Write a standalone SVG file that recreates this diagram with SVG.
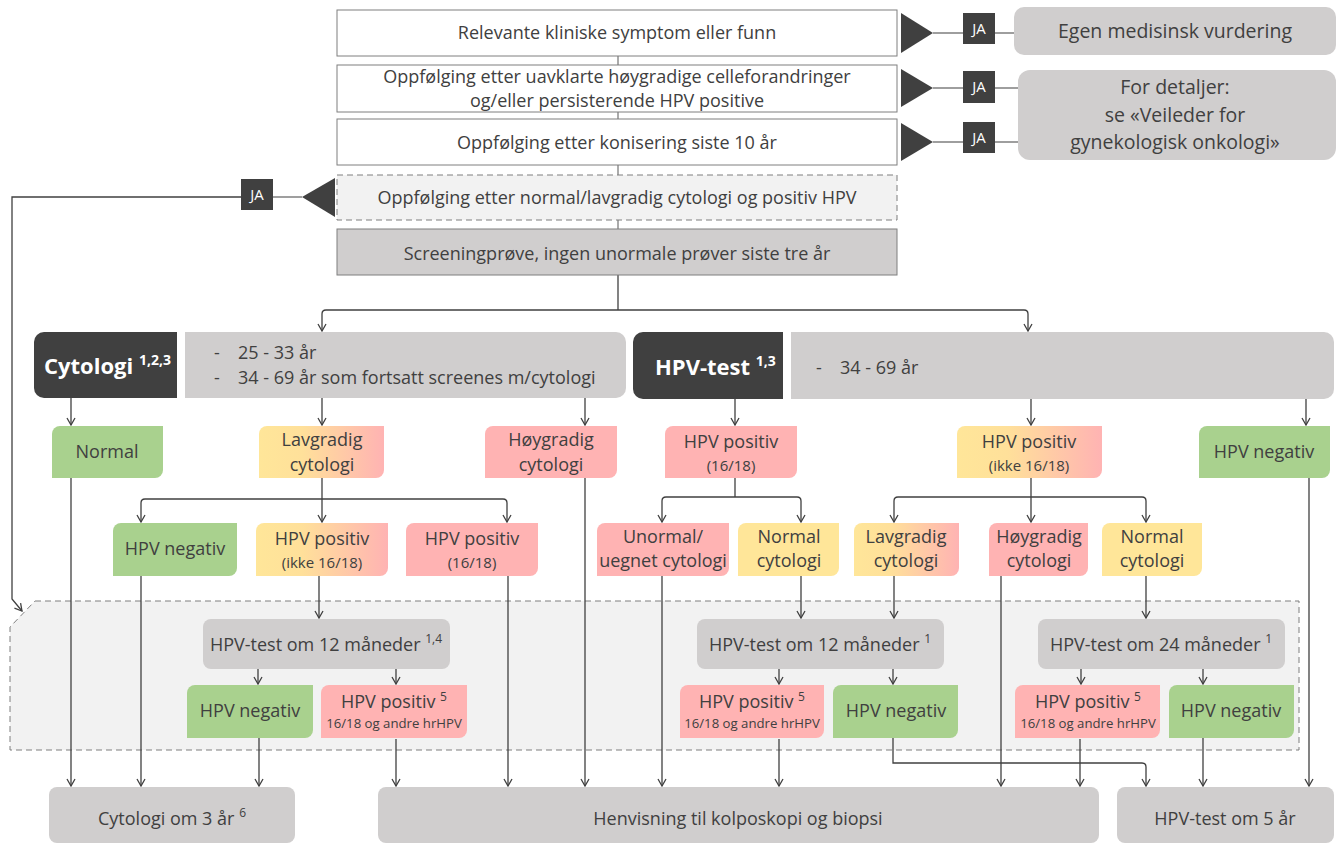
<svg xmlns="http://www.w3.org/2000/svg" width="1339" height="844" viewBox="0 0 1339 844">
<defs>
<style>
.box{fill:#fff;stroke:#7f7f7f;stroke-width:1}
.dash{fill:#f2f2f2;stroke:#7f7f7f;stroke-width:1;stroke-dasharray:6 4}
.grey{fill:#d0cece}
.dark{fill:#404040}
.green{fill:#a9d18e}
.yellow{fill:#ffe699}
.pink{fill:#ffb3b3}
.grad{fill:url(#yp)}
.tx{font-family:"Open Sans","Liberation Sans",sans-serif;fill:#404040;text-anchor:middle;font-size:18px}
.big{font-size:19.5px}
.sm{font-size:15px}
.xs{font-size:13.2px}
.sup{font-size:12px}
.ja{font-family:"Open Sans","Liberation Sans",sans-serif;fill:#fff;text-anchor:middle;font-size:15px}
.hd{font-family:"Open Sans","Liberation Sans",sans-serif;fill:#fff;font-weight:bold;font-size:22px}
.hsup{font-size:14px}
.age{font-family:"Open Sans","Liberation Sans",sans-serif;fill:#404040;font-size:18px}
.ln{fill:none;stroke:#404040;stroke-width:1.3}
.gl{fill:none;stroke:#7f7f7f;stroke-width:1.3}
.arr{marker-end:url(#ah)}
</style>
<linearGradient id="yp" x1="0" y1="0" x2="1" y2="0">
<stop offset="0" stop-color="#ffe699"/>
<stop offset="0.35" stop-color="#ffe09a"/>
<stop offset="1" stop-color="#ffb3b3"/>
</linearGradient>
<marker id="ah" viewBox="-9 -6 10 12" markerWidth="10" markerHeight="12" refX="0" refY="0" orient="auto" markerUnits="userSpaceOnUse">
<path d="M-7,-4 L0,0 L-7,4" fill="none" stroke="#404040" stroke-width="1.3"/>
</marker>
</defs>

<g id="region">
<polygon class="dash" points="35,601 1299,601 1299,750 10,750 10,627"/>
</g>

<g id="connectors">
<path class="gl" d="M618,56 V65 M618,112 V119 M618,165 V175 M618,220 V229"/>
<path class="gl" d="M933,33 H1015 M933,88 H1019 M933,142 H1019"/>
<path class="gl" d="M302,197 H242"/>
<path class="ln arr" d="M242,197 H12 V599 L22,611"/>
<path class="ln" d="M618,275 V310"/>
<path class="ln arr" d="M618,310 H326 Q322,310 322,314 V331"/>
<path class="ln arr" d="M618,310 H1024 Q1028,310 1028,314 V331"/>
<path class="ln arr" d="M71,398 V425"/>
<path class="ln arr" d="M322,398 V425"/>
<path class="ln arr" d="M585,398 V425"/>
<path class="ln arr" d="M735,399 V425"/>
<path class="ln arr" d="M1031,399 V425"/>
<path class="ln arr" d="M1306,399 V425"/>
<path class="ln arr" d="M322,478 V522"/>
<path class="ln arr" d="M322,499 H145 Q141,499 141,503 V522"/>
<path class="ln arr" d="M322,499 H503 Q507,499 507,503 V522"/>
<path class="ln" d="M735,478 V497"/>
<path class="ln arr" d="M735,497 H666 Q662,497 662,501 V522"/>
<path class="ln arr" d="M735,497 H797 Q801,497 801,501 V522"/>
<path class="ln arr" d="M1031,478 V522"/>
<path class="ln arr" d="M1031,497 H898 Q894,497 894,501 V522"/>
<path class="ln arr" d="M1031,497 H1142 Q1146,497 1146,501 V522"/>
<path class="ln arr" d="M71,478 V786"/>
<path class="ln arr" d="M141,576 V786"/>
<path class="ln arr" d="M319,576 V618"/>
<path class="ln arr" d="M508,576 V786"/>
<path class="ln arr" d="M585,478 V786"/>
<path class="ln arr" d="M662,576 V786"/>
<path class="ln arr" d="M801,576 V618"/>
<path class="ln arr" d="M894,576 V618"/>
<path class="ln arr" d="M1001,576 V786"/>
<path class="ln arr" d="M1146,576 V618"/>
<path class="ln arr" d="M1309,478 V786"/>
<path class="ln arr" d="M258,669 V684"/>
<path class="ln arr" d="M396,669 V684"/>
<path class="ln arr" d="M259,738 V786"/>
<path class="ln arr" d="M396,739 V786"/>
<path class="ln arr" d="M779,669 V684"/>
<path class="ln arr" d="M893,669 V684"/>
<path class="ln arr" d="M779,739 V786"/>
<path class="ln arr" d="M893,738 V763 H1142 Q1146,763 1146,767 V786"/>
<path class="ln arr" d="M1081,669 V684"/>
<path class="ln arr" d="M1203,669 V684"/>
<path class="ln arr" d="M1080,739 V786"/>
<path class="ln arr" d="M1203,738 V786"/>
</g>

<g id="n-symptom">
<rect class="box" x="337" y="10" width="560" height="46"/>
<text class="tx" x="617" y="39">Relevante kliniske symptom eller funn</text>
</g>
<g id="n-uavklarte">
<rect class="box" x="337" y="65" width="560" height="47"/>
<text class="tx" x="617" y="83">Oppfølging etter uavklarte høygradige celleforandringer</text>
<text class="tx" x="617" y="107">og/eller persisterende HPV positive</text>
</g>
<g id="n-konisering">
<rect class="box" x="337" y="119" width="560" height="46"/>
<text class="tx" x="617" y="149">Oppfølging etter konisering siste 10 år</text>
</g>
<g id="n-normal-lav">
<rect class="dash" x="337" y="175" width="560" height="45"/>
<text class="tx" x="617" y="204">Oppfølging etter normal/lavgradig cytologi og positiv HPV</text>
</g>
<g id="n-screening">
<rect class="grey" x="337" y="229" width="560" height="46" stroke="#7f7f7f" stroke-width="1"/>
<text class="tx" x="617" y="260">Screeningprøve, ingen unormale prøver siste tre år</text>
</g>

<g id="tri-1"><polygon class="dark" points="901,13 901,53 933,33"/></g>
<g id="tri-2"><polygon class="dark" points="901,69 901,107 933,88"/></g>
<g id="tri-3"><polygon class="dark" points="901,123 901,161 933,142"/></g>
<g id="tri-4"><polygon class="dark" points="302,197 335,178 335,217"/></g>

<g id="ja-1"><rect class="dark" x="963" y="13" width="32" height="31"/><text class="ja" x="979" y="34">JA</text></g>
<g id="ja-2"><rect class="dark" x="963" y="71" width="32" height="32"/><text class="ja" x="979" y="92">JA</text></g>
<g id="ja-3"><rect class="dark" x="963" y="122" width="32" height="31"/><text class="ja" x="979" y="143">JA</text></g>
<g id="ja-4"><rect class="dark" x="241" y="179" width="32" height="31"/><text class="ja" x="257" y="200">JA</text></g>

<g id="n-egen">
<rect class="grey" x="1014" y="7" width="322" height="48" rx="10"/>
<text class="tx big" x="1175" y="38">Egen medisinsk vurdering</text>
</g>
<g id="n-detaljer">
<rect class="grey" x="1018" y="70" width="318" height="90" rx="12"/>
<text class="tx big" x="1175" y="94">For detaljer:</text>
<text class="tx big" x="1175" y="122">se «Veileder for</text>
<text class="tx big" x="1175" y="149">gynekologisk onkologi»</text>
</g>

<g id="n-cytologi">
<path class="dark" d="M44,332 H177 V398 H44 A10,10 0 0 1 34,388 V342 A10,10 0 0 1 44,332 Z"/>
<text class="hd" x="44" y="374">Cytologi <tspan class="hsup" dy="-9">1,2,3</tspan></text>
</g>
<g id="n-cyt-age">
<path class="grey" d="M185,332 H616 A10,10 0 0 1 626,342 V388 A10,10 0 0 1 616,398 H185 Z"/>
<text class="age" x="214" y="359">-</text>
<text class="age" x="238" y="359">25 - 33 år</text>
<text class="age" x="214" y="384">-</text>
<text class="age" x="238" y="384">34 - 69 år som fortsatt screenes m/cytologi</text>
</g>
<g id="n-hpvtest">
<path class="dark" d="M643,332 H783 V399 H643 A10,10 0 0 1 633,389 V342 A10,10 0 0 1 643,332 Z"/>
<text class="hd" x="655" y="375">HPV-test <tspan class="hsup" dy="-9">1,3</tspan></text>
</g>
<g id="n-hpv-age">
<path class="grey" d="M791,332 H1324 A10,10 0 0 1 1334,342 V389 A10,10 0 0 1 1324,399 H791 Z"/>
<text class="age" x="816" y="374">-</text>
<text class="age" x="840" y="374">34 - 69 år</text>
</g>

<g id="n-normal">
<path class="green" d="M60,426 H163 V470 A8,8 0 0 1 155,478 H52 V434 A8,8 0 0 1 60,426 Z"/>
<text class="tx" x="107" y="458">Normal</text>
</g>
<g id="n-lavgradig">
<path class="grad" d="M267,426 H384 V470 A8,8 0 0 1 376,478 H259 V434 A8,8 0 0 1 267,426 Z"/>
<text class="tx" x="322" y="446">Lavgradig</text>
<text class="tx" x="322" y="471">cytologi</text>
</g>
<g id="n-hoygradig">
<path class="pink" d="M493,426 H617 V470 A8,8 0 0 1 609,478 H485 V434 A8,8 0 0 1 493,426 Z"/>
<text class="tx" x="551" y="446">Høygradig</text>
<text class="tx" x="551" y="471">cytologi</text>
</g>
<g id="n-hpvpos-1618">
<path class="pink" d="M673,426 H797 V470 A8,8 0 0 1 789,478 H665 V434 A8,8 0 0 1 673,426 Z"/>
<text class="tx" x="731" y="448">HPV positiv</text>
<text class="tx sm" x="731" y="471">(16/18)</text>
</g>
<g id="n-hpvpos-ikke">
<path class="grad" d="M965,426 H1102 V470 A8,8 0 0 1 1094,478 H957 V434 A8,8 0 0 1 965,426 Z"/>
<text class="tx" x="1029" y="448">HPV positiv</text>
<text class="tx sm" x="1029" y="471">(ikke 16/18)</text>
</g>
<g id="n-hpvneg-top">
<path class="green" d="M1207,426 H1330 V470 A8,8 0 0 1 1322,478 H1199 V434 A8,8 0 0 1 1207,426 Z"/>
<text class="tx" x="1264" y="458">HPV negativ</text>
</g>

<g id="n-c-hpvneg">
<path class="green" d="M121,523 H237 V568 A8,8 0 0 1 229,576 H113 V531 A8,8 0 0 1 121,523 Z"/>
<text class="tx" x="175" y="555">HPV negativ</text>
</g>
<g id="n-c-hpvpos-ikke">
<path class="grad" d="M264,523 H388 V568 A8,8 0 0 1 380,576 H256 V531 A8,8 0 0 1 264,523 Z"/>
<text class="tx" x="322" y="545">HPV positiv</text>
<text class="tx sm" x="322" y="568">(ikke 16/18)</text>
</g>
<g id="n-c-hpvpos-1618">
<path class="pink" d="M414,523 H538 V568 A8,8 0 0 1 530,576 H406 V531 A8,8 0 0 1 414,523 Z"/>
<text class="tx" x="472" y="545">HPV positiv</text>
<text class="tx sm" x="472" y="568">(16/18)</text>
</g>
<g id="n-unormal">
<path class="pink" d="M605,523 H729 V568 A8,8 0 0 1 721,576 H597 V531 A8,8 0 0 1 605,523 Z"/>
<text class="tx" x="663" y="543">Unormal/</text>
<text class="tx" x="663" y="567">uegnet cytologi</text>
</g>
<g id="n-normcyt-1">
<path class="yellow" d="M746,523 H839 V568 A8,8 0 0 1 831,576 H738 V531 A8,8 0 0 1 746,523 Z"/>
<text class="tx" x="789" y="543">Normal</text>
<text class="tx" x="789" y="567">cytologi</text>
</g>
<g id="n-lavcyt">
<path class="grad" d="M862,523 H959 V568 A8,8 0 0 1 951,576 H854 V531 A8,8 0 0 1 862,523 Z"/>
<text class="tx" x="906" y="543">Lavgradig</text>
<text class="tx" x="906" y="567">cytologi</text>
</g>
<g id="n-hoycyt">
<path class="pink" d="M997,523 H1088 V568 A8,8 0 0 1 1080,576 H989 V531 A8,8 0 0 1 997,523 Z"/>
<text class="tx" x="1039" y="543">Høygradig</text>
<text class="tx" x="1039" y="567">cytologi</text>
</g>
<g id="n-normcyt-2">
<path class="yellow" d="M1110,523 H1202 V568 A8,8 0 0 1 1194,576 H1102 V531 A8,8 0 0 1 1110,523 Z"/>
<text class="tx" x="1152" y="543">Normal</text>
<text class="tx" x="1152" y="567">cytologi</text>
</g>

<g id="n-test12-l">
<rect class="grey" x="203" y="619" width="247" height="50" rx="8"/>
<text class="tx" x="326" y="651">HPV-test om 12 måneder <tspan class="sup" dy="-8">1,4</tspan></text>
</g>
<g id="n-neg-l">
<path class="green" d="M195,685 H313 V730 A8,8 0 0 1 305,738 H187 V693 A8,8 0 0 1 195,685 Z"/>
<text class="tx" x="250" y="717">HPV negativ</text>
</g>
<g id="n-pos-l">
<path class="pink" d="M329,685 H467 V730 A8,8 0 0 1 459,738 H321 V693 A8,8 0 0 1 329,685 Z"/>
<text class="tx" x="394" y="708">HPV positiv <tspan class="sup" dy="-7">5</tspan></text>
<text class="tx xs" x="394" y="728">16/18 og andre hrHPV</text>
</g>

<g id="n-test12-m">
<rect class="grey" x="697" y="619" width="247" height="50" rx="8"/>
<text class="tx" x="820" y="651">HPV-test om 12 måneder <tspan class="sup" dy="-8">1</tspan></text>
</g>
<g id="n-pos-m">
<path class="pink" d="M688,685 H824 V730 A8,8 0 0 1 816,738 H680 V693 A8,8 0 0 1 688,685 Z"/>
<text class="tx" x="752" y="708">HPV positiv <tspan class="sup" dy="-7">5</tspan></text>
<text class="tx xs" x="752" y="728">16/18 og andre hrHPV</text>
</g>
<g id="n-neg-m">
<path class="green" d="M841,685 H958 V730 A8,8 0 0 1 950,738 H833 V693 A8,8 0 0 1 841,685 Z"/>
<text class="tx" x="896" y="717">HPV negativ</text>
</g>

<g id="n-test24-r">
<rect class="grey" x="1038" y="619" width="247" height="50" rx="8"/>
<text class="tx" x="1161" y="651">HPV-test om 24 måneder <tspan class="sup" dy="-8">1</tspan></text>
</g>
<g id="n-pos-r">
<path class="pink" d="M1023,685 H1160 V730 A8,8 0 0 1 1152,738 H1015 V693 A8,8 0 0 1 1023,685 Z"/>
<text class="tx" x="1088" y="708">HPV positiv <tspan class="sup" dy="-7">5</tspan></text>
<text class="tx xs" x="1088" y="728">16/18 og andre hrHPV</text>
</g>
<g id="n-neg-r">
<path class="green" d="M1177,685 H1294 V730 A8,8 0 0 1 1286,738 H1169 V693 A8,8 0 0 1 1177,685 Z"/>
<text class="tx" x="1231" y="717">HPV negativ</text>
</g>

<g id="n-cyt3">
<rect class="grey" x="49" y="787" width="246" height="56" rx="8"/>
<text class="tx" x="172" y="825">Cytologi om 3 år <tspan class="sup" dy="-8">6</tspan></text>
</g>
<g id="n-henvisning">
<rect class="grey" x="378" y="787" width="721" height="56" rx="8"/>
<text class="tx" x="738" y="825">Henvisning til kolposkopi og biopsi</text>
</g>
<g id="n-hpv5">
<rect class="grey" x="1117" y="787" width="217" height="56" rx="8"/>
<text class="tx" x="1225" y="825">HPV-test om 5 år</text>
</g>
</svg>
